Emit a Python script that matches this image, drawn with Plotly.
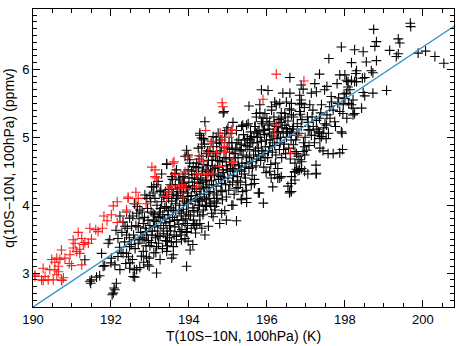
import plotly.graph_objects as go

# ---- data ----
red_points = [
    (192.44, 4.12), (192.64, 4.02), (192.16, 4.05), (192.06, 3.99), (192.40, 3.93),
    (192.01, 3.86), (191.82, 3.84), (191.90, 3.77), (192.16, 3.745), (192.31, 3.76),
    (191.78, 3.66), (191.61, 3.64), (191.67, 3.61), (191.46, 3.66), (191.16, 3.60),
    (191.03, 3.49), (191.25, 3.51), (191.33, 3.45), (191.50, 3.50), (191.42, 3.44),
    (191.29, 3.42), (191.08, 3.44), (191.03, 3.37), (191.20, 3.35), (191.20, 3.29),
    (191.12, 3.32), (190.73, 3.34), (190.95, 3.27), (190.82, 3.22), (190.61, 3.22),
    (190.48, 3.20), (190.56, 3.16), (190.69, 3.20), (190.93, 3.14), (190.99, 3.11),
    (191.25, 3.12), (190.43, 3.05), (190.26, 3.07), (190.56, 3.05), (190.65, 3.02),
    (190.61, 2.975), (190.73, 2.90), (190.31, 2.95), (190.05, 2.95), (190.22, 2.90),
    (190.52, 2.90), (190.39, 2.90), (190.78, 2.93), (190.65, 3.10), (190.26, 2.89),
    (190.74, 2.89), (190.05, 2.97),
    (194.85, 5.51), (194.87, 5.45), (194.43, 5.10), (193.05, 4.56), (193.13, 4.52),
    (193.59, 4.62), (193.97, 4.71), (194.26, 4.73), (194.56, 4.91), (194.80, 5.06),
    (194.85, 5.00), (194.90, 4.86), (194.95, 4.78), (194.49, 4.77), (193.90, 4.49),
    (194.32, 4.45), (194.62, 4.47), (196.24, 5.93), (196.95, 5.83), (195.90, 5.56),
    (195.11, 5.11), (196.24, 5.18), (196.20, 5.06), (196.79, 5.03), (196.61, 4.77),
    (195.10, 4.63), (195.03, 5.00), (193.64, 4.45), (193.82, 4.30), (193.50, 4.25),
    (192.90, 4.02), (192.64, 4.19), (192.70, 4.10), (193.13, 4.42), (193.56, 4.28),
    (193.49, 4.20), (193.82, 4.27), (194.20, 4.46), (194.46, 4.46), (194.58, 4.94),
    (194.84, 4.96), (195.09, 5.10), (194.92, 4.86), (194.71, 4.77), (194.33, 4.64),
    (194.79, 4.57), (195.13, 4.64), (194.49, 4.46), (194.37, 4.65), (193.17, 4.40),
    (193.75, 4.25), (193.90, 4.25), (193.43, 4.13), (194.20, 4.27), (193.85, 4.11),
    (192.44, 4.10), (193.62, 4.64),
]

black_points = [
    # sparse lower-left
    (192.23, 3.84), (192.48, 3.81), (192.36, 3.69), (192.13, 3.63), (191.97, 3.49),
    (192.18, 3.51), (192.40, 3.56), (191.76, 3.29), (191.93, 3.44), (192.01, 3.22),
    (192.18, 3.245), (192.31, 3.29), (192.48, 3.39), (192.61, 3.49), (191.33, 3.195),
    (192.10, 3.12), (192.23, 3.05), (192.48, 3.07), (192.66, 3.05), (192.61, 2.94),
    (191.84, 3.11), (191.50, 2.90), (191.71, 2.96), (191.63, 2.94), (192.14, 2.85),
    (192.10, 2.755), (192.06, 2.705), (191.46, 2.88), (191.48, 2.85), (192.03, 2.68),
    (192.08, 2.78), (191.80, 3.10), (192.00, 3.15), (192.57, 2.95), (192.60, 3.05),
    (192.94, 3.12), (192.98, 3.10), (193.17, 3.00), (193.56, 3.22), (193.60, 3.27),
    (193.94, 3.10), (194.03, 3.34), (194.10, 3.42), (193.90, 3.51), (194.17, 3.59),
    (194.41, 3.56), (194.33, 3.66), (194.50, 3.69), (194.79, 3.73), (194.96, 3.78),
    (194.62, 3.83), (194.84, 3.88), (193.98, 3.47), (193.94, 3.61), (193.81, 3.49),
    (195.22, 3.77), (194.92, 3.92), (195.10, 4.00), (195.91, 4.03), (195.48, 4.04),
    (194.28, 3.73), (194.20, 3.71), (194.11, 3.73), (194.58, 3.88), (194.67, 3.93),
    (194.71, 4.03), (194.45, 4.00), (197.05, 4.46), (197.26, 4.46), (195.34, 4.09),
    (196.15, 4.27), (196.11, 4.40), (196.54, 4.28), (196.58, 4.18), (196.62, 4.32),
    (195.81, 4.18), (195.60, 4.30), (195.68, 4.32), (196.28, 4.40), (196.37, 4.42),
    (196.71, 4.49), (196.80, 4.51), (195.47, 4.22), (195.38, 4.20), (195.21, 4.25),
    # sparse right side
    (197.93, 5.06), (197.74, 5.23), (197.49, 5.20), (197.44, 5.06), (197.40, 5.01),
    (197.36, 4.84), (197.44, 4.80), (197.57, 4.76), (197.70, 4.76), (197.87, 4.77),
    (197.94, 4.82), (197.26, 4.59), (197.27, 4.47), (196.89, 4.54), (196.76, 4.53),
    (196.72, 4.49), (196.63, 4.42), (196.63, 4.32), (196.63, 4.20), (196.97, 4.74),
    (196.93, 4.79), (196.89, 4.64), (196.85, 4.67), (196.68, 4.89), (196.72, 4.79),
    (197.10, 5.11), (197.23, 5.03), (197.19, 5.16), (197.32, 5.08), (197.36, 4.98),
    (197.02, 4.81), (196.97, 4.86), (196.76, 4.76), (196.80, 4.72), (196.63, 5.06),
    (196.68, 5.16), (196.72, 4.62),
    # sparse upper right
    (199.68, 6.68), (199.69, 6.63), (198.74, 6.59), (199.37, 6.45), (199.41, 6.39),
    (198.77, 6.34), (198.81, 6.41), (197.91, 6.33), (198.25, 6.29), (198.47, 6.26),
    (199.15, 6.28), (199.37, 6.23), (199.32, 6.19), (199.88, 6.24), (200.07, 6.27),
    (200.31, 6.19), (200.54, 6.09), (198.17, 6.10), (198.55, 6.11), (198.81, 6.13),
    (198.30, 5.98), (198.68, 5.98), (198.72, 5.95), (197.87, 5.92), (198.00, 5.92),
    (198.04, 5.84), (198.17, 5.84), (198.25, 5.82), (198.45, 5.87), (198.51, 5.88),
    (198.08, 5.74), (198.13, 5.70), (198.04, 5.65), (198.00, 5.57), (197.96, 5.48),
    (198.47, 5.66), (198.51, 5.61), (198.72, 5.65), (199.07, 5.69), (198.21, 5.55),
    (198.17, 5.48), (198.21, 5.43), (198.43, 5.43), (198.25, 5.35), (198.21, 5.33),
    (197.59, 6.16), (198.28, 5.94), (197.35, 5.93), (196.59, 5.88), (198.08, 5.82),
    (198.30, 5.82), (197.80, 5.79), (197.54, 5.75), (197.23, 5.79), (196.88, 5.77),
    (196.93, 5.71), (197.48, 5.70), (195.86, 5.70), (196.03, 5.69), (196.41, 5.65),
    (196.59, 5.65), (196.84, 5.62), (196.88, 5.55), (196.84, 5.48), (197.14, 5.65),
    (197.27, 5.67), (197.65, 5.60), (197.82, 5.50), (196.20, 5.52), (196.24, 5.48),
    (196.50, 5.52), (196.63, 5.50), (197.10, 5.48), (197.18, 5.40), (197.40, 5.48),
    (197.61, 5.45), (195.73, 5.35), (196.37, 5.36), (196.37, 5.28), (196.63, 5.33),
    (196.84, 5.38), (197.35, 5.28), (197.54, 5.33), (197.87, 5.38), (195.90, 5.28),
    (195.86, 5.23), (196.07, 5.23), (197.06, 5.22), (197.27, 5.25), (197.53, 5.18),
    (195.69, 5.16), (195.77, 5.08), (195.94, 5.11), (196.07, 5.06), (196.50, 5.13),
    (196.59, 5.08), (196.88, 5.16), (197.06, 5.11), (197.14, 5.03), (197.91, 5.08),
    (196.76, 5.03), (197.35, 5.06), (195.60, 5.01), (195.73, 5.06),
    (195.54, 5.46), (195.82, 5.48), (196.12, 5.45), (196.33, 5.50), (194.88, 5.36),
    (194.41, 5.23), (195.13, 5.22), (195.35, 5.16), (195.48, 5.18), (195.73, 5.30),
    (195.95, 5.35), (196.46, 5.35), (196.63, 5.40), (196.89, 5.50), (196.72, 4.37),
    (196.59, 4.20), (196.33, 4.40), (196.84, 4.52), (196.97, 4.50), (195.78, 4.18),
    (195.48, 4.10), (195.13, 4.00), (195.35, 4.08), (196.20, 4.45), (196.07, 4.50),
    # upper-left edge of the cloud
    (194.90, 5.38), (194.28, 5.03), (194.37, 4.98), (194.33, 4.86), (194.24, 4.84),
    (194.54, 4.79), (194.45, 4.76), (194.62, 4.72), (193.94, 4.81), (193.98, 4.74),
    (193.43, 4.60), (193.30, 4.46), (193.64, 4.47), (193.85, 4.42), (194.11, 4.57),
    (194.20, 4.62), (194.75, 5.06), (194.80, 4.96), (194.71, 4.91), (194.92, 5.06),
    (194.97, 5.10), (194.62, 5.01), (194.38, 4.96), (194.28, 5.06), (194.32, 4.99),
    (193.90, 4.72), (194.02, 4.67), (193.43, 4.61), (193.68, 4.52), (193.56, 4.42),
    (193.21, 4.35), (193.10, 4.27), (192.87, 4.15), (192.92, 4.10), (193.00, 4.14),
    (193.77, 4.37), (193.85, 4.32), (194.07, 4.50), (194.15, 4.45), (194.50, 4.49),
    (194.45, 4.37), (194.37, 4.27), (193.47, 4.23), (193.34, 4.15), (193.68, 4.14),
    (193.98, 4.13), (193.04, 4.27), (193.17, 4.30), (193.26, 4.20), (193.13, 4.10),
    (192.74, 3.93), (192.66, 3.88), (192.53, 3.69), (192.83, 3.73), (192.91, 3.61),
    (193.09, 3.78), (193.26, 3.83), (193.60, 3.93), (193.51, 3.76), (193.81, 3.88),
    (193.90, 3.73), (193.94, 4.03), (194.28, 4.08), (194.37, 3.93), (194.54, 4.03),
    (194.71, 4.15), (193.26, 3.54), (193.43, 3.47), (193.17, 3.39), (192.74, 3.49),
    (192.83, 3.32), (192.91, 3.24), (193.43, 3.32), (193.60, 3.39), (192.40, 3.29),
    (192.49, 3.15), (193.77, 3.61), (193.68, 3.54),
    # dense core
    (192.22, 3.38), (192.35, 3.46), (192.28, 3.60), (192.42, 3.66), (192.31, 3.75),
    (192.45, 3.24), (192.38, 3.14), (192.26, 3.30), (192.47, 3.52), (192.40, 3.90),
    (192.55, 3.20), (192.62, 3.36), (192.70, 3.44), (192.58, 3.56), (192.76, 3.60),
    (192.64, 3.70), (192.72, 3.80), (192.56, 3.84), (192.68, 3.98), (192.78, 3.25),
    (192.52, 3.42), (192.80, 3.52), (192.74, 3.08), (192.60, 4.02),
    (192.84, 3.16), (192.90, 3.40), (192.96, 3.48), (193.05, 3.56), (192.88, 3.66),
    (193.00, 3.70), (193.08, 3.88), (192.94, 3.95), (193.02, 4.05), (192.86, 3.82),
    (193.10, 3.30), (192.98, 3.22), (193.06, 3.62), (192.92, 3.56), (193.04, 3.45),
    (193.08, 4.18),
    (193.14, 3.52), (193.20, 3.62), (193.28, 3.70), (193.34, 3.58), (193.16, 3.76),
    (193.24, 3.90), (193.38, 3.96), (193.30, 4.05), (193.18, 4.00), (193.36, 4.12),
    (193.22, 3.44), (193.32, 3.36), (193.40, 3.48), (193.12, 3.86), (193.28, 4.22),
    (193.38, 3.80), (193.26, 3.20), (193.35, 3.66),
    (193.44, 3.62), (193.50, 3.70), (193.58, 3.82), (193.64, 3.68), (193.46, 3.86),
    (193.54, 3.96), (193.66, 4.02), (193.48, 4.10), (193.60, 4.16), (193.70, 4.24),
    (193.52, 4.30), (193.62, 3.56), (193.68, 3.46), (193.45, 3.40), (193.56, 4.06),
    (193.42, 3.98), (193.66, 3.92), (193.50, 3.52), (193.58, 4.38), (193.70, 3.78),
    (193.74, 3.72), (193.80, 3.84), (193.86, 3.94), (193.92, 3.80), (193.76, 4.00),
    (193.84, 4.10), (193.96, 4.18), (193.78, 4.26), (193.88, 4.34), (193.98, 4.02),
    (193.82, 3.64), (193.94, 3.90), (194.00, 4.28), (193.72, 4.14), (193.90, 4.46),
    (193.80, 3.56), (193.96, 3.70), (193.86, 4.20), (193.74, 4.40), (193.98, 4.52),
    (194.04, 3.84), (194.10, 3.96), (194.16, 4.06), (194.22, 3.90), (194.06, 4.14),
    (194.14, 4.24), (194.26, 4.32), (194.08, 4.40), (194.20, 4.46), (194.28, 4.16),
    (194.12, 3.78), (194.24, 4.00), (194.02, 4.62), (194.18, 4.56), (194.30, 4.40),
    (194.06, 3.66), (194.26, 4.68), (194.14, 4.34), (194.22, 4.10), (194.28, 3.84),
    (194.34, 4.06), (194.40, 4.16), (194.46, 4.26), (194.52, 4.10), (194.36, 4.34),
    (194.44, 4.44), (194.56, 4.52), (194.38, 4.60), (194.50, 4.66), (194.58, 4.36),
    (194.42, 3.98), (194.54, 4.20), (194.32, 4.72), (194.48, 4.80), (194.60, 4.58),
    (194.36, 3.86), (194.56, 4.00), (194.44, 4.52), (194.52, 4.30), (194.40, 4.90),
    (194.64, 4.18), (194.70, 4.28), (194.76, 4.38), (194.82, 4.22), (194.66, 4.46),
    (194.74, 4.56), (194.86, 4.64), (194.68, 4.72), (194.80, 4.80), (194.88, 4.48),
    (194.72, 4.10), (194.84, 4.32), (194.62, 4.86), (194.78, 4.92), (194.90, 4.70),
    (194.66, 3.98), (194.86, 4.08), (194.74, 4.66), (194.82, 4.42), (194.70, 5.00),
    (194.94, 4.30), (195.00, 4.40), (195.06, 4.50), (195.12, 4.34), (194.96, 4.58),
    (195.04, 4.68), (195.16, 4.76), (194.98, 4.84), (195.10, 4.92), (195.18, 4.60),
    (195.02, 4.22), (195.14, 4.44), (194.92, 5.00), (195.08, 5.06), (195.20, 4.84),
    (194.96, 4.12), (195.16, 4.16), (195.04, 4.78), (195.12, 4.54), (195.00, 5.14),
    (195.24, 4.42), (195.30, 4.52), (195.36, 4.62), (195.42, 4.46), (195.26, 4.70),
    (195.34, 4.80), (195.46, 4.88), (195.28, 4.96), (195.40, 5.04), (195.48, 4.72),
    (195.32, 4.34), (195.44, 4.56), (195.22, 5.10), (195.38, 5.18), (195.50, 4.98),
    (195.26, 4.26), (195.46, 4.30), (195.34, 4.90),
    (195.54, 4.54), (195.60, 4.64), (195.66, 4.74), (195.72, 4.58), (195.56, 4.82),
    (195.64, 4.92), (195.76, 5.00), (195.58, 5.08), (195.70, 5.16), (195.78, 4.84),
    (195.62, 4.44), (195.74, 4.68), (195.52, 5.20), (195.68, 4.38), (195.80, 5.10),
    (195.56, 4.96),
    (195.84, 4.66), (195.90, 4.76), (195.96, 4.86), (196.02, 4.70), (195.86, 4.94),
    (195.94, 5.04), (196.06, 5.12), (195.88, 5.20), (196.00, 5.28), (196.08, 4.96),
    (195.92, 4.56), (196.04, 4.80), (195.82, 5.36), (196.10, 4.60), (195.98, 4.48),
    (196.14, 4.78), (196.20, 4.88), (196.26, 4.98), (196.32, 4.82), (196.16, 5.06),
    (196.24, 5.16), (196.36, 5.22), (196.18, 5.30), (196.30, 5.08), (196.38, 4.70),
    (196.22, 4.62), (196.34, 4.92), (196.12, 5.40), (196.28, 4.54),
    (196.44, 4.90), (196.50, 5.00), (196.56, 4.84), (196.62, 4.96), (196.46, 5.18),
    (196.54, 5.24), (196.66, 5.12), (196.48, 4.76), (196.60, 4.68), (196.42, 5.06),
    (196.58, 5.42), (196.68, 5.30),
    (196.74, 4.96), (196.82, 5.06), (196.90, 5.26), (196.98, 5.00), (196.78, 5.20),
    (196.94, 4.92), (197.04, 5.30), (196.86, 5.34), (197.08, 4.88), (196.96, 5.44),
    (197.16, 5.30), (197.28, 5.12), (197.46, 5.14), (197.22, 4.92), (197.52, 4.98),
    (197.38, 5.36), (197.62, 5.28), (197.58, 5.06),
    (197.70, 5.40), (197.84, 5.58), (197.98, 5.64), (197.76, 5.16), (198.10, 5.50),
    (197.66, 5.52), (198.05, 5.28), (197.95, 5.35),
    # more of the dark core
    (192.95, 3.78), (193.03, 3.90), (193.12, 3.68), (193.19, 3.55), (193.27, 3.95),
    (193.33, 3.86), (193.41, 3.74), (193.47, 3.92), (193.53, 3.62), (193.57, 4.20),
    (193.63, 3.78), (193.69, 4.10), (193.75, 3.92), (193.79, 4.18), (193.85, 3.78),
    (193.89, 4.06), (193.93, 4.26), (193.99, 3.86), (194.05, 4.08), (194.09, 4.28),
    (194.13, 3.92), (194.19, 4.20), (194.23, 4.38), (194.27, 4.00), (194.31, 4.24),
    (194.35, 4.50), (194.39, 4.12), (194.43, 4.36), (194.47, 4.58), (194.51, 4.20),
    (194.55, 4.44), (194.59, 4.66), (194.63, 4.30), (194.67, 4.54), (194.71, 4.76),
    (194.75, 4.44), (194.79, 4.64), (194.83, 4.86), (194.87, 4.52), (194.91, 4.40),
    (194.95, 4.70), (194.99, 4.52), (195.03, 4.92), (195.07, 4.60), (195.11, 4.82),
    (195.15, 4.50), (195.19, 4.70), (195.23, 4.92), (195.27, 4.58), (195.31, 4.82),
    (195.35, 4.50), (195.39, 4.74), (195.43, 4.96), (195.47, 4.62), (195.51, 4.86),
    (195.55, 4.70), (195.59, 4.92), (195.63, 4.56), (195.67, 5.00), (195.71, 4.80),
    (195.75, 4.92), (195.79, 4.72), (195.83, 5.00), (195.87, 4.80), (195.91, 5.10),
    (195.95, 4.70), (195.99, 4.96), (196.03, 5.18), (196.07, 4.86), (196.11, 5.02),
    (196.15, 4.92), (196.19, 5.20), (196.23, 4.74), (196.27, 5.08), (196.31, 5.26),
    (196.35, 5.00), (196.39, 5.14), (196.43, 4.82), (196.47, 5.30), (196.53, 5.08),
    (192.85, 3.50), (192.80, 3.90), (193.00, 3.40), (193.15, 3.30), (192.70, 3.68),
    (193.21, 3.82), (193.45, 3.56), (193.55, 3.46), (193.65, 4.30), (193.40, 4.20),
    (194.00, 4.40), (193.95, 3.60), (194.15, 3.70), (194.25, 4.55), (194.45, 4.08),
    (194.65, 4.06), (194.85, 4.20), (195.05, 4.30), (195.25, 4.36), (195.45, 4.40),
]

# regression line: q = fit_q0 + fit_slope * (T - fit_T0)
fit_T0 = 190.0
fit_q0 = 2.5
fit_slope = 0.383
line_T = [189.5, 201.0]

x_range = [190.0, 200.8]
y_range = [2.5, 6.89]
x_ticks = [190, 192, 194, 196, 198, 200]
y_ticks = [3, 4, 5, 6]

x_title = "T(10S\u221210N, 100hPa) (K)"
y_title = "q(10S\u221210N, 100hPa) (ppmv)"

# ---- figure ----
bT = [p[0] for p in black_points]
bq = [p[1] for p in black_points]
rT = [p[0] for p in red_points]
rq = [p[1] for p in red_points]
line_q = [fit_q0 + fit_slope * (t - fit_T0) for t in line_T]

fig = go.Figure()
fig.add_trace(go.Scatter(
    x=bT, y=bq, mode="markers",
    marker=dict(symbol="cross-thin", size=7, line=dict(color="black", width=1.1)),
    showlegend=False,
))
fig.add_trace(go.Scatter(
    x=rT, y=rq, mode="markers",
    marker=dict(symbol="cross-thin", size=7, line=dict(color="#ff1a1a", width=1.1)),
    showlegend=False,
))
fig.add_trace(go.Scatter(
    x=line_T, y=line_q, mode="lines",
    line=dict(color="#2b8fd6", width=1.4),
    showlegend=False,
))

font = dict(family="Liberation Sans, Arial, sans-serif", size=13, color="black")
title_font = dict(family="Liberation Sans, Arial, sans-serif", size=14, color="black")
axis_common = dict(
    showline=True, linecolor="black", linewidth=1, mirror="allticks",
    ticks="inside", ticklen=7, tickwidth=1, tickcolor="black",
    showgrid=False, zeroline=False, tickfont=font,
)
fig.update_xaxes(
    range=x_range, tickvals=x_ticks, title=dict(text=x_title, font=title_font, standoff=5),
    minor=dict(dtick=0.5, ticks="inside", ticklen=4, tickcolor="black", showgrid=False),
    **axis_common,
)
fig.update_yaxes(
    range=y_range, tickvals=y_ticks, title=dict(text=y_title, font=title_font, standoff=4),
    minor=dict(dtick=0.1, ticks="inside", ticklen=4, tickcolor="black", showgrid=False),
    **axis_common,
)
fig.update_layout(
    width=458, height=346,
    margin=dict(l=33, r=4, t=9, b=39),
    plot_bgcolor="white", paper_bgcolor="white",
    font=font,
)
fig.write_html("out.html")
